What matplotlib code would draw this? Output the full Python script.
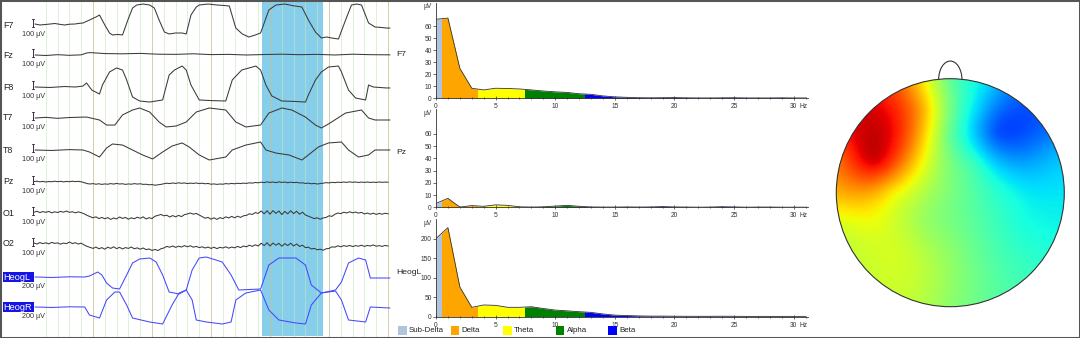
import numpy as np
import matplotlib
matplotlib.use('Agg')
import matplotlib.pyplot as plt
from matplotlib.patches import Rectangle, Circle, Arc
from matplotlib.ticker import MultipleLocator

plt.rcParams['font.family'] = ['Liberation Sans', 'DejaVu Sans']

# --- EEG traces (time in s, amplitude in uV) ---
f7_t = [0.02, 0.10, 0.19, 0.27, 0.35, 0.44, 0.52, 0.60, 0.69, 0.76,
        0.83, 0.94, 1.05, 1.11, 1.20, 1.28, 1.33, 1.42, 1.50, 1.59,
        1.67, 1.74, 1.85, 1.96, 2.04, 2.12, 2.21, 2.29, 2.40, 2.51,
        2.58, 2.66, 2.75, 2.80, 2.95, 3.10, 3.20, 3.31, 3.42, 3.53,
        3.64, 3.75, 3.84, 3.98, 4.10, 4.25, 4.40, 4.54, 4.65, 4.77,
        4.87, 4.96, 5.04, 5.16, 5.28, 5.38, 5.47, 5.55, 5.67, 5.78,
        5.88, 5.97, 6.03]
f7_uv = [12, 0, 6, 12, 19, 8, 0, 10, 12, 20,
         25, 62, 100, 125, 0, -100, -125, -118, -125, 62,
         212, 250, 262, 250, 212, 62, -88, -112, -100, -100,
         -112, 125, 225, 250, 262, 250, 245, 238, -38, -112,
         -150, -125, -100, 188, 250, 262, 240, 225, 62, -88,
         -162, -150, -162, -175, 62, 250, 262, 250, 25, -25,
         -30, -38, -38]

fz_t = [0.02, 0.2, 0.4, 0.6, 0.8, 0.89, 0.95, 1.2, 1.5, 1.8, 2.1, 2.4,
        2.7, 3.0, 3.3, 3.6, 3.9, 4.2, 4.5, 4.8, 5.1, 5.4, 5.7, 6.03]
fz_uv = [0, -6, 4, -4, 2, 25, 30, 18, 15, 20, 10, 8,
         15, 5, 8, 0, 6, 10, 4, 8, 0, 10, 4, 2]

f8_t = [0.02, 0.27, 0.52, 0.70, 0.83, 0.89, 0.98, 1.11, 1.16, 1.28,
        1.40, 1.50, 1.57, 1.67, 1.79, 1.96, 2.07, 2.18, 2.29, 2.38,
        2.51, 2.58, 2.66, 2.80, 3.00, 3.25, 3.36, 3.52, 3.76, 3.84,
        3.93, 4.03, 4.20, 4.40, 4.60, 4.65, 4.77, 4.87, 4.99, 5.16,
        5.21, 5.33, 5.45, 5.62, 5.67, 5.75, 5.97, 6.03]
f8_uv = [0, -6, 6, 0, 12, 50, -38, -88, 25, 188,
         238, 212, 88, -125, -175, -188, -175, -162, 150, 212,
         262, 212, 25, -162, -170, -175, 88, 212, 262, 212,
         25, -112, -175, -180, -188, -100, 88, 188, 250, 262,
         188, -38, -138, -162, 25, 0, -12, -12]

t7_t = [0.02, 0.2, 0.4, 0.6, 0.89, 1.11, 1.23, 1.37, 1.50, 1.67,
        1.79, 1.96, 2.12, 2.24, 2.41, 2.58, 2.75, 2.97, 3.25, 3.42,
        3.59, 3.84, 3.98, 4.20, 4.37, 4.60, 4.77, 4.87, 4.99, 5.28,
        5.55, 5.67, 5.78, 6.03]
t7_uv = [0, 8, -4, 6, 12, -25, -88, -88, 38, 100,
         125, 75, -50, -112, -100, -50, 75, 125, 100, -50,
         -112, -88, 62, 125, 100, 12, -88, -125, -75, 62,
         100, 0, -25, -25]

t8_t = [0.02, 0.3, 0.6, 0.83, 0.94, 1.11, 1.23, 1.33, 1.50, 1.67,
        1.84, 2.01, 2.18, 2.34, 2.51, 2.63, 2.80, 2.97, 3.25, 3.36,
        3.59, 3.84, 3.93, 4.10, 4.32, 4.54, 4.65, 4.82, 4.99, 5.21,
        5.33, 5.50, 5.67, 5.78, 6.03]
t8_uv = [0, -6, 5, 0, -25, -88, 25, 75, 62, 0,
         -62, -112, -25, 50, 88, 38, -62, -125, -88, 0,
         62, 100, 0, -38, -62, -125, -62, 38, 88, 100,
         0, -88, -62, 0, 0]

# posterior channels sampled at 20 Hz, one row per second
DENSE_FS = 20
pz_uv = [5, 10, 2, 8, 0, 6, 3, 10, 4, 9, 1, 7, 4, 10, 5, 8, 3, -8, -20, -25,
         -20, -28, -22, -30, -24, -28, -20, -26, -18, -25, -22, -30, -24, -28, -20, -26, -22, -30, -28, -35,
         -32, -40, -35, -30, -22, -15, -20, -12, -18, -10, -16, -12, -20, -14, -18, -12, -20, -15, -22, -18,
         -28, -24, -30, -25, -28, -20, -24, -18, -22, -16, -20, -14, -18, -10, -14, -6, -10, -2, -8, 2,
         -6, 0, -8, 2, -5, -1, -9, -2, -8, -4, -12, -10, -18, -14, -22, -18, -25, -20, -15, -8,
         -12, -4, -8, -2, -6, 0, -5, 2, -4, 0, -6, -1, -5, 0, -6, -2, -5, 0, -4, -1,
         -3]
o1_uv = [10, 22, 5, 18, 8, 20, 2, 15, 6, 20, 10, 24, 8, 16, 2, 14, 4, -10, -30, -45,
         -60, -48, -70, -55, -72, -58, -80, -62, -74, -50, -68, -55, -78, -60, -72, -52, -66, -48, -75, -58,
         -70, -40, -30, -18, -35, -28, -50, -32, -48, -30, -45, -20, -12, 0, -15, -5, -25, -45, -65, -55,
         -78, -60, -80, -58, -70, -48, -62, -42, -60, -40, -55, -35, -30, -10, -18, 5, -5, 25, -10, 28,
         -15, 30, -5, 25, -20, 20, -10, 28, -8, 22, -15, 10, -25, -40, -55, -70, -60, -78, -62, -55,
         -35, -42, -15, 0, -8, 10, 0, 15, 2, 12, -2, 8, -12, 0, -15, -2, -18, -5, -15, -3,
         -10]
o2_uv = [12, 0, 18, 5, 15, 2, 20, 8, 14, -2, 12, 4, 25, 6, 16, 0, 10, -12, -30, -42,
         -55, -38, -60, -45, -65, -40, -55, -35, -58, -42, -62, -45, -55, -38, -60, -48, -65, -50, -70, -62,
         -80, -68, -82, -60, -50, -30, -40, -25, -42, -28, -38, -20, -35, -22, -40, -30, -45, -35, -50, -38,
         -55, -40, -58, -42, -50, -35, -52, -38, -48, -30, -45, -25, -35, -15, -30, -10, -25, 10, -20, 15,
         -25, 12, -15, 8, -28, 5, -20, 10, -25, 0, -30, -15, -45, -40, -62, -55, -72, -65, -78, -60,
         -55, -35, -40, -22, -35, -20, -30, -18, -32, -20, -28, -15, -30, -18, -25, -12, -28, -20, -30, -18,
         -25]

heogl_t = [0.02, 0.3, 0.6, 0.86, 0.94, 1.08, 1.15, 1.23, 1.33, 1.45,
           1.57, 1.67, 1.79, 1.96, 2.07, 2.18, 2.29, 2.46, 2.58, 2.68,
           2.80, 2.92, 3.19, 3.34, 3.47, 3.84, 3.98, 4.15, 4.44, 4.60,
           4.70, 4.87, 5.11, 5.21, 5.33, 5.50, 5.62, 5.70, 6.03]
heogl_uv = [0, -12, 5, 0, 25, 125, 50, -150, -275, -300,
            50, 350, 450, 475, 375, 50, -375, -425, -325, 175,
            475, 500, 375, 50, -325, -300, 300, 475, 475, 300,
            -200, -400, -325, -125, 350, 475, 425, -25, -25]

heogr_t = [0.02, 0.3, 0.6, 0.86, 0.94, 1.11, 1.23, 1.37, 1.45, 1.57,
           1.67, 1.96, 2.18, 2.34, 2.46, 2.58, 2.68, 2.75, 2.92, 3.19,
           3.34, 3.42, 3.59, 3.84, 3.98, 4.15, 4.44, 4.60, 4.70, 4.87,
           5.11, 5.21, 5.33, 5.62, 5.70, 6.03]
heogr_uv = [0, -12, 5, 0, -200, -275, 175, 375, 375, 50,
            -275, -375, -425, 50, 350, 425, 175, -325, -375, -425,
            -375, 175, 350, 425, -75, -325, -400, -425, 50, 350,
            400, 175, -325, -375, 0, -25]

channels = ['F7', 'Fz', 'F8', 'T7', 'T8', 'Pz', 'O1', 'O2', 'HeogL', 'HeogR']
scale_uv = [100, 100, 100, 100, 100, 100, 100, 100, 200, 200]
selection_s = (3.87, 4.89)

# --- amplitude spectra (uV per 1 Hz bin, 0..31 Hz) ---
freqs = list(range(32))
spec_f7 = [66, 67, 25, 8.4, 7, 8.4, 8.2, 7.8, 7.0, 6.1, 5.4, 4.9, 3.8, 3.3, 2.0, 1.2,
           0.8, 0.5, 0.4, 0.5, 0.6, 0.4, 0.3, 0.3, 0.4, 0.5, 0.3, 0.3, 0.3, 0.4, 0.3, 0.3]
spec_pz = [3.2, 7.3, 0.2, 1.4, 0.8, 2.0, 1.6, 0.4, 0.2, 0.4, 1.0, 1.6, 0.8, 0.3, 0.2, 0.2,
           0.3, 0.2, 0.3, 0.6, 0.3, 0.2, 0.1, 0.2, 0.5, 0.3, 0.1, 0.2, 0.2, 0.1, 0.1, 0.1]
spec_heogl = [200, 228, 76, 24, 30, 29, 24, 24, 25.5, 21, 17, 15, 12.8, 11, 7, 4,
              3, 2, 1.5, 1.5, 1.2, 1, 1, 1, 1.2, 1, 0.8, 0.8, 0.8, 0.8, 0.8, 0.8]
spec_names = ['F7', 'Pz', 'HeogL']
spec_ymax = [80, 80, 250]
spec_yticks = [[0, 10, 20, 30, 40, 50, 60], [0, 10, 20, 30, 40, 50, 60], [0, 50, 100, 150, 200]]

band_names = ['Sub-Delta', 'Delta', 'Theta', 'Alpha', 'Beta']
band_edges = [(0, 0.5), (0.5, 3.5), (3.5, 7.5), (7.5, 12.5), (12.5, 30)]
band_colors = ['#b0c4de', '#ffa500', '#ffff00', '#008000', '#0000ff']

# --- scalp map: electrode positions (head radius 1) and relative values ---
elec_names = ['Fp1', 'Fpz', 'Fp2', 'AF3', 'AF4', 'F7', 'F3', 'Fz', 'F4', 'F8',
              'FT7', 'FC5', 'FC1', 'FC2', 'FC6', 'FT8', 'T7', 'C3', 'Cz', 'C4',
              'T8', 'TP7', 'CP5', 'CP1', 'CP2', 'CP6', 'TP8', 'P7', 'P3', 'Pz',
              'P4', 'P8', 'O1', 'Oz', 'O2']
elec_x = [-0.31, 0.0, 0.31, -0.24, 0.24, -0.81, -0.41, 0.0, 0.41, 0.81,
          -0.95, -0.67, -0.2, 0.2, 0.67, 0.95, -1.0, -0.5, 0.0, 0.5,
          1.0, -0.95, -0.67, -0.2, 0.2, 0.67, 0.95, -0.81, -0.41, 0.0,
          0.41, 0.81, -0.31, 0.0, 0.31]
elec_y = [0.95, 1.0, 0.95, 0.72, 0.72, 0.59, 0.53, 0.5, 0.53, 0.59,
          0.31, 0.28, 0.25, 0.25, 0.28, 0.31, 0.0, 0.0, 0.0, 0.0,
          0.0, -0.31, -0.28, -0.25, -0.25, -0.28, -0.31, -0.59, -0.53, -0.5,
          -0.53, -0.59, -0.95, -1.0, -0.95]
elec_val = [0.72, 0.47, 0.34, 0.72, 0.33, 0.92, 0.84, 0.47, 0.21, 0.22,
            0.82, 0.92, 0.61, 0.42, 0.28, 0.31, 0.72, 0.66, 0.50, 0.38,
            0.35, 0.61, 0.63, 0.53, 0.46, 0.38, 0.37, 0.59, 0.60, 0.52,
            0.44, 0.40, 0.58, 0.52, 0.47]

# ---------------- layout (pixels of a 1080 x 338 canvas) ----------------
W, H = 1080, 338
def fx(px):
    return px / W
def fy(py):
    return 1 - py / H

baseline_px = [25, 55, 87, 118, 150, 182, 213, 244, 277, 307]
gain_uv_per_px = [12.5] * 8 + [25, 25]
trace_colors = ['#3a3a3a'] * 8 + ['#4646ff', '#4646ff']

fig = plt.figure(figsize=(W / 100, H / 100), dpi=100)
fig.patch.set_facecolor('white')

# ---------------- raw EEG page ----------------
ax = fig.add_axes([fx(34), 0, fx(391) - fx(34), 1])
ax.set_xlim(0, 6.05)
ax.set_ylim(H, 0)
ax.axis('off')

for k in range(1, 31):
    t = k * 0.2
    if k % 5 == 0:
        ax.axvline(t, color='#c8bf8a', lw=0.7, alpha=0.75, zorder=2)
    else:
        ax.axvline(t, color='#c6e6bd', lw=0.6, alpha=0.7, zorder=2)
ax.axvspan(selection_s[0], selection_s[1], ymin=0.005, ymax=0.995,
           color='#87ceeb', lw=0, zorder=1)

traces = {
    'F7': (f7_t, f7_uv), 'Fz': (fz_t, fz_uv), 'F8': (f8_t, f8_uv),
    'T7': (t7_t, t7_uv), 'T8': (t8_t, t8_uv),
    'Pz': (np.arange(len(pz_uv)) / DENSE_FS, pz_uv),
    'O1': (np.arange(len(o1_uv)) / DENSE_FS, o1_uv),
    'O2': (np.arange(len(o2_uv)) / DENSE_FS, o2_uv),
    'HeogL': (heogl_t, heogl_uv), 'HeogR': (heogr_t, heogr_uv),
}

for i, name in enumerate(channels):
    t, uv = traces[name]
    b = baseline_px[i]
    g = gain_uv_per_px[i]
    ax.plot(t, b - np.asarray(uv, float) / g, color=trace_colors[i], lw=0.75, zorder=4)

    if name.startswith('Heog'):
        fig.add_artist(Rectangle((fx(2.5), fy(b + 5)), fx(31), 10 / H,
                                 transform=fig.transFigure, color='#1414e6', lw=0))
        fig.text(fx(3.5), fy(b), name, color='white', fontsize=6.6,
                 ha='left', va='center')
    else:
        fig.text(fx(3), fy(b), name, color='#222222', fontsize=6.4,
                 ha='left', va='center')
        # calibration bar
        bar_lo = b + 2
        bar_hi = bar_lo - scale_uv[i] / g
        xb = -0.017
        ax.plot([xb, xb], [bar_lo, bar_hi], color='#333333', lw=0.7, clip_on=False, zorder=5)
        ax.plot([xb - 0.02, xb + 0.02], [bar_lo, bar_lo], color='#333333', lw=0.6, clip_on=False, zorder=5)
        ax.plot([xb - 0.02, xb + 0.02], [bar_hi, bar_hi], color='#333333', lw=0.6, clip_on=False, zorder=5)
    fig.text(fx(22), fy(b + 9.5), f'{scale_uv[i]} µV', color='#333333',
             fontsize=5.2, ha='left', va='center')

# ---------------- spectra ----------------
spec_box_px = [(2.5, 98.3), (109.5, 207.3), (219.0, 316.7)]
spec_label_y = [55, 153, 273]
spectra = [spec_f7, spec_pz, spec_heogl]

for amp, name, ymax, yt, (top, bot), ly in zip(spectra, spec_names, spec_ymax,
                                               spec_yticks, spec_box_px, spec_label_y):
    sx = fig.add_axes([fx(436), fy(bot), fx(808) - fx(436), (bot - top) / H])
    sx.set_xlim(0, 31.2)
    sx.set_ylim(0, ymax)
    for (lo, hi), col in zip(band_edges, band_colors):
        poly = sx.fill_between(freqs, amp, 0, color=col, lw=0, zorder=1)
        poly.set_clip_path(Rectangle((lo, 0), hi - lo, ymax, transform=sx.transData))
    sx.plot(freqs, amp, color='#333333', lw=0.6, zorder=2)

    for side in ('top', 'right'):
        sx.spines[side].set_visible(False)
    for side in ('left', 'bottom'):
        sx.spines[side].set_color('#333333')
        sx.spines[side].set_linewidth(0.6)
    sx.set_xticks([0, 5, 10, 15, 20, 25, 30])
    sx.xaxis.set_minor_locator(MultipleLocator(1))
    sx.set_yticks(yt)
    sx.tick_params(axis='x', which='major', direction='inout', length=3, width=0.5,
                   labelsize=4.8, pad=2, colors='#333333')
    sx.tick_params(axis='x', which='minor', direction='inout', length=2, width=0.5,
                   colors='#333333')
    sx.tick_params(axis='y', direction='out', length=2, width=0.5, labelsize=4.8,
                   pad=1, colors='#333333')
    sx.annotate('Hz', xy=(30, 0), xycoords=('data', 'axes fraction'),
                xytext=(4.2, -3.5), textcoords='offset points', fontsize=4.8,
                color='#333333', ha='left', va='top')
    fig.text(fx(432), fy(top + 4.5), 'µV', fontsize=4.8, color='#333333',
             ha='right', va='center')
    fig.text(fx(396), fy(ly), name, fontsize=6.1, color='#222222',
             ha='left', va='center')

# band legend
for i, (bname, col) in enumerate(zip(band_names, band_colors)):
    x0 = 398 + 52.5 * i
    fig.add_artist(Rectangle((fx(x0), fy(334.5)), fx(8.5), 8.5 / H,
                             transform=fig.transFigure, color=col, lw=0))
    fig.text(fx(x0 + 11), fy(330.5), bname, fontsize=5.7, color='#222222',
             ha='left', va='center')

# ---------------- scalp map ----------------
R = 114.0
cx, cy = 950.3, 192.7
tx = fig.add_axes([fx(830), fy(310), fx(240), 260 / H])
tx.set_xlim(-(cx - 830) / R, (1070 - cx) / R)
tx.set_ylim(-(310 - cy) / R, (cy - 50) / R)
tx.axis('off')


def tps_field(px, py, vals, gx, gy):
    pts = np.column_stack([px, py])
    n = len(vals)

    def kern(r):
        with np.errstate(divide='ignore', invalid='ignore'):
            k = r ** 2 * np.log(r)
        return np.nan_to_num(k)

    d = np.linalg.norm(pts[:, None, :] - pts[None, :, :], axis=-1)
    P = np.column_stack([np.ones(n), px, py])
    A = np.zeros((n + 3, n + 3))
    A[:n, :n] = kern(d)
    A[:n, n:] = P
    A[n:, :n] = P.T
    rhs = np.concatenate([vals, np.zeros(3)])
    sol = np.linalg.solve(A, rhs)
    w, a = sol[:n], sol[n:]
    g = np.column_stack([gx.ravel(), gy.ravel()])
    dg = np.linalg.norm(g[:, None, :] - pts[None, :, :], axis=-1)
    f = kern(dg) @ w + a[0] + a[1] * g[:, 0] + a[2] * g[:, 1]
    return f.reshape(gx.shape)


gv = np.linspace(-1.02, 1.02, 240)
gx, gy = np.meshgrid(gv, gv)
field = tps_field(np.array(elec_x), np.array(elec_y), np.array(elec_val), gx, gy)

head = Circle((0, 0), 1.0, transform=tx.transData)
im = tx.imshow(field, extent=(-1.02, 1.02, -1.02, 1.02), origin='lower', cmap='jet',
               vmin=0, vmax=1, interpolation='bilinear', zorder=1)
im.set_clip_path(head)
tx.add_patch(Circle((0, 0), 1.0, fill=False, ec='#333333', lw=0.8, zorder=3))
tx.add_patch(Arc((0, 0.99), 0.205, 0.33, theta1=0, theta2=180, ec='#333333', lw=0.8, zorder=3))

# outer frame
fig.add_artist(Rectangle((0, 0), 1, 1, transform=fig.transFigure, fill=False,
                         ec='#555555', lw=2.2, zorder=10))

fig.savefig('out.png', dpi=100, facecolor='white')
